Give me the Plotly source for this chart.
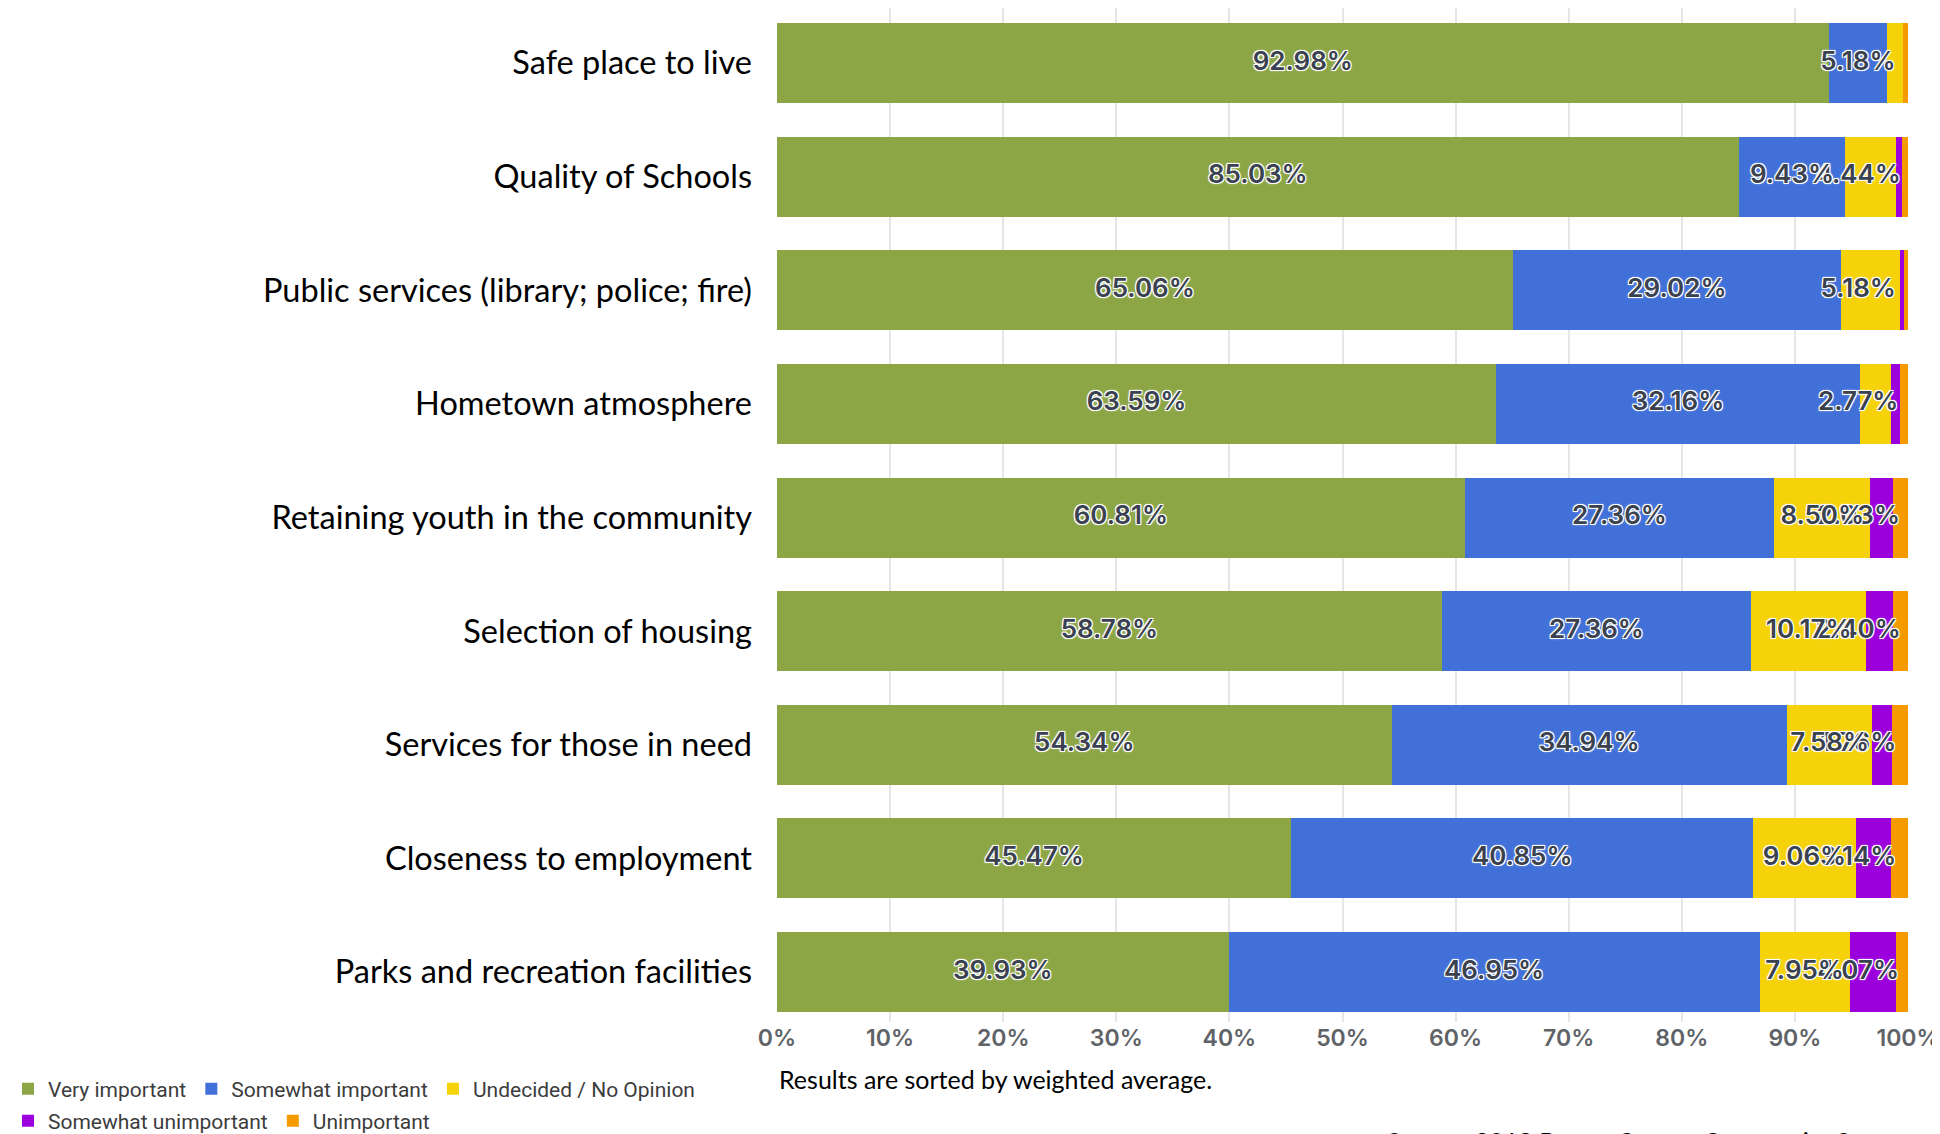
import plotly.graph_objects as go

categories = [
    "Safe place to live",
    "Quality of Schools",
    "Public services (library; police; fire)",
    "Hometown atmosphere",
    "Retaining youth in the community",
    "Selection of housing",
    "Services for those in need",
    "Closeness to employment",
    "Parks and recreation facilities",
]

very_important = [92.98, 85.03, 65.06, 63.59, 60.81, 58.78, 54.34, 45.47, 39.93]
somewhat_important = [5.18, 9.43, 29.02, 32.16, 27.36, 27.36, 34.94, 40.85, 46.95]
undecided = [1.40, 4.44, 5.18, 2.77, 8.50, 10.17, 7.58, 9.06, 7.95]
somewhat_unimportant = [0.00, 0.55, 0.37, 0.74, 2.03, 2.40, 1.76, 3.14, 4.07]
unimportant = [0.44, 0.55, 0.37, 0.74, 1.30, 1.29, 1.38, 1.48, 1.10]

series_names = ["Very important", "Somewhat important", "Undecided / No Opinion",
                "Somewhat unimportant", "Unimportant"]
series_values = [very_important, somewhat_important, undecided,
                 somewhat_unimportant, unimportant]
series_colors = ["#8CA646", "#4170D8", "#F5D20A", "#9B00DC", "#F59B00"]
series_legend = ["legend", "legend", "legend", "legend2", "legend2"]

x_tickvals = [0, 10, 20, 30, 40, 50, 60, 70, 80, 90, 100]
x_ticktext = ["0%", "10%", "20%", "30%", "40%", "50%", "60%", "70%", "80%", "90%", "100%"]

LABEL_MIN = 1.5      # segments smaller than this get no label
LABEL_MAX_X = 95.6   # labels are kept inside the right end of the bar

halo = "-1px -1px 0 #fff, 1px -1px 0 #fff, -1px 1px 0 #fff, 1px 1px 0 #fff, 0 0 3px #fff"

W, H = 1932, 1126  # page body adds an 8px offset

fig = go.Figure()

# stacked bars
for name, vals, col, lg in zip(series_names, series_values, series_colors, series_legend):
    fig.add_trace(go.Bar(
        name=name, y=categories, x=vals, orientation="h",
        marker=dict(color=col, line=dict(width=0)),
        legend=lg, hovertemplate="%{y}<br>" + name + ": %{x:.2f}%<extra></extra>",
    ))

# value labels above all bars (earlier series drawn on top)
starts = [[0.0] * len(categories)]
for vals in series_values[:-1]:
    starts.append([s + v for s, v in zip(starts[-1], vals)])

for idx in reversed(range(len(series_values))):
    vals = series_values[idx]
    xs, ys, ts = [], [], []
    for cat, s, v in zip(categories, starts[idx], vals):
        if v >= LABEL_MIN:
            xs.append(min(s + v / 2, LABEL_MAX_X))
            ys.append(cat)
            ts.append(f"{v:.2f}%")
    fig.add_trace(go.Scatter(
        x=xs, y=ys, text=ts, mode="text", textposition="middle center",
        textfont=dict(family="Inter, Roboto, sans-serif", size=26, color="#3a4250",
                      weight=600, shadow=halo),
        cliponaxis=False, showlegend=False, hoverinfo="skip",
    ))

legend_font = dict(family="Roboto, sans-serif", size=21, color="#3c3c3c")
fig.update_layout(
    width=W, height=H,
    barmode="stack", bargap=0.296,
    plot_bgcolor="white", paper_bgcolor="white",
    margin=dict(l=769, r=30, t=0, b=112),
    showlegend=True,
    legend=dict(orientation="h", xref="container", yref="container",
                x=0.0, xanchor="left", y=1 - 1081 / H, yanchor="middle",
                font=legend_font, traceorder="normal",
                bgcolor="rgba(0,0,0,0)", itemclick=False),
    legend2=dict(orientation="h", xref="container", yref="container",
                 x=0.0, xanchor="left", y=1 - 1113 / H, yanchor="middle",
                 font=legend_font, traceorder="normal",
                 bgcolor="rgba(0,0,0,0)", itemclick=False),
    xaxis=dict(range=[0, 100], tickvals=x_tickvals, ticktext=x_ticktext,
               showgrid=True, gridcolor="#e6e6e6", gridwidth=1.5,
               zeroline=False, showline=False, ticks="",
               ticklabeloverflow="allow",
               tickfont=dict(family="Inter, Roboto, sans-serif", size=23,
                             color="#5f6368", weight=600),
               fixedrange=True),
    yaxis=dict(range=[8.44, -0.484], type="category", showgrid=False,
               categoryorder="array", categoryarray=categories,
               ticks="", ticklabelstandoff=24,
               tickfont=dict(family="Lato, 'Open Sans', sans-serif", size=32.5, color="#000000"),
               fixedrange=True),
    annotations=[
        dict(text="Results are sorted by weighted average.", xref="paper", yref="paper",
             x=0, xanchor="left", y=(1014 - 1071) / 1014, yanchor="middle",
             showarrow=False, font=dict(family="Lato, sans-serif", size=25, color="#000000")),
        dict(text="Source: 2018 Boone County Community Survey", xref="paper", yref="paper",
             x=(1378 - 769) / 1133, xanchor="left", y=(1014 - 1116) / 1014, yanchor="top",
             showarrow=False, font=dict(family="Lato, sans-serif", size=25, color="#000000")),
    ],
)

fig.write_html("out.html")
